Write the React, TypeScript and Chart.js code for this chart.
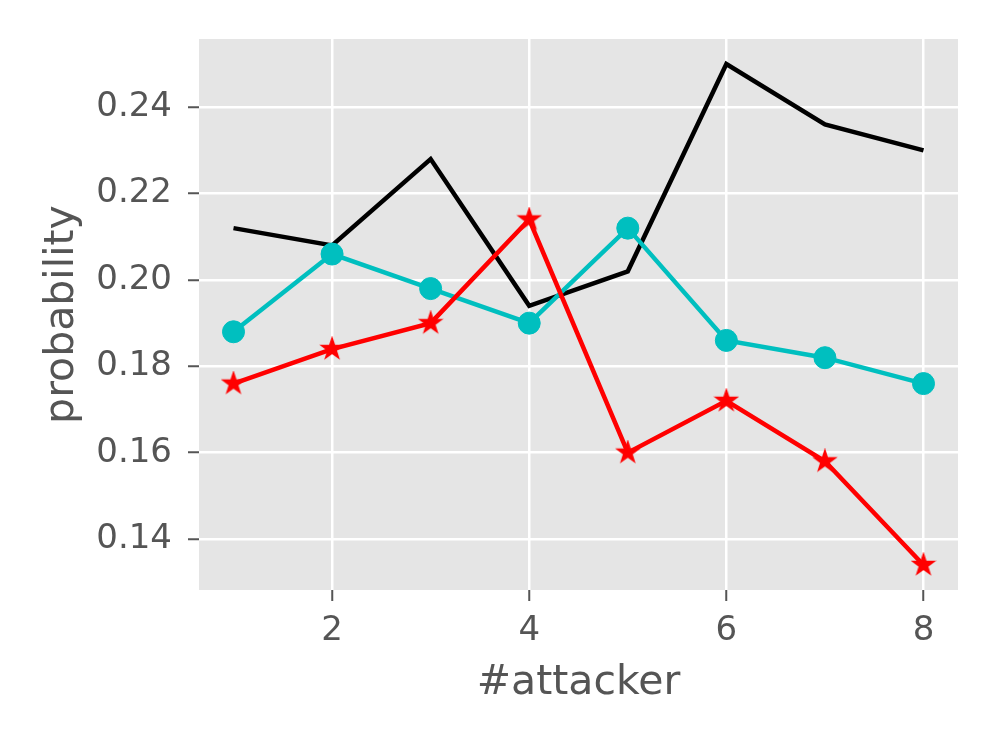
import React, { useEffect, useRef } from "react";
import { Chart, registerables } from "chart.js";
Chart.register(...registerables);

const attackers = [1, 2, 3, 4, 5, 6, 7, 8];
const blackSeries = [0.212, 0.208, 0.228, 0.194, 0.202, 0.25, 0.236, 0.23];
const cyanSeries = [0.188, 0.206, 0.198, 0.19, 0.212, 0.186, 0.182, 0.176];
const redSeries = [0.176, 0.184, 0.19, 0.214, 0.16, 0.172, 0.158, 0.134];
const xTicks = [2, 4, 6, 8];
const yTicks = [0.14, 0.16, 0.18, 0.2, 0.22, 0.24];
const xLabel = "#attacker";
const yLabel = "probability";

const TEXT = "#555555";
const FONT = "'DejaVu Sans', sans-serif";

function makeStar(radius: number, color: string): HTMLCanvasElement {
  const size = Math.ceil(radius * 2 + 4);
  const c = document.createElement("canvas");
  c.width = size;
  c.height = size;
  const ctx = c.getContext("2d")!;
  const cx = size / 2;
  const cy = size / 2;
  const inner = radius * 0.381966;
  ctx.beginPath();
  for (let i = 0; i < 10; i++) {
    const r = i % 2 === 0 ? radius : inner;
    const a = -Math.PI / 2 + (i * Math.PI) / 5;
    const px = cx + r * Math.cos(a);
    const py = cy + r * Math.sin(a);
    if (i === 0) ctx.moveTo(px, py);
    else ctx.lineTo(px, py);
  }
  ctx.closePath();
  ctx.fillStyle = color;
  ctx.fill();
  ctx.lineWidth = 1.5;
  ctx.lineJoin = "miter";
  ctx.strokeStyle = color;
  ctx.stroke();
  return c;
}

const bgPlugin = {
  id: "plotBg",
  beforeDraw(chart: any) {
    const { ctx, chartArea } = chart;
    ctx.save();
    ctx.fillStyle = "#E5E5E5";
    ctx.fillRect(chartArea.left, chartArea.top, chartArea.right - chartArea.left, chartArea.bottom - chartArea.top);
    ctx.restore();
  },
};

export default function App() {
  const ref = useRef<HTMLCanvasElement | null>(null);
  useEffect(() => {
    if (!ref.current) return;
    const star = makeStar(11, "#FF0000");
    const toPts = (arr: number[]) => attackers.map((x, i) => ({ x, y: arr[i] }));
    const chart = new Chart(ref.current, {
      type: "line",
      data: {
        datasets: [
          {
            data: toPts(blackSeries),
            borderColor: "#000000",
            backgroundColor: "#000000",
            borderWidth: 4.5,
            pointRadius: 0,
            tension: 0,
            order: 3,
          },
          {
            data: toPts(cyanSeries),
            borderColor: "#00BFBF",
            backgroundColor: "#00BFBF",
            borderWidth: 4.5,
            pointRadius: 11,
            pointBorderWidth: 1,
            pointStyle: "circle",
            tension: 0,
            order: 2,
          },
          {
            data: toPts(redSeries),
            borderColor: "#FF0000",
            backgroundColor: "#FF0000",
            borderWidth: 4.5,
            pointRadius: 11,
            pointStyle: star as any,
            tension: 0,
            order: 1,
          },
        ],
      },
      options: {
        animation: false,
        responsive: false,
        devicePixelRatio: 1,
        layout: { padding: { top: 39, right: 39, left: 0, bottom: 0 } },
        plugins: { legend: { display: false }, tooltip: { enabled: false } },
        scales: {
          x: {
            type: "linear",
            position: "bottom",
            min: 0.65,
            max: 8.35,
            afterBuildTicks: (s: any) => {
              s.ticks = xTicks.map((v) => ({ value: v }));
            },
            afterFit: (s: any) => {
              s.height = 157;
            },
            grid: { color: "#FFFFFF", lineWidth: 2.5, tickColor: TEXT, tickWidth: 2, tickLength: 11, drawTicks: true },
            border: { display: false },
            ticks: {
              color: TEXT,
              font: { family: FONT, size: 34 },
              padding: 10,
              maxRotation: 0,
              autoSkip: false,
              callback: (v: any) => String(v),
            },
            title: {
              display: true,
              text: xLabel,
              color: TEXT,
              font: { family: FONT, size: 41 },
              padding: { top: 0, bottom: 39 },
            },
          },
          y: {
            type: "linear",
            min: 0.1282,
            max: 0.2558,
            afterBuildTicks: (s: any) => {
              s.ticks = yTicks.map((v) => ({ value: v }));
            },
            afterFit: (s: any) => {
              s.width = 199;
            },
            grid: { color: "#FFFFFF", lineWidth: 2.5, tickColor: TEXT, tickWidth: 2, tickLength: 11, drawTicks: true },
            border: { display: false },
            ticks: {
              color: TEXT,
              font: { family: FONT, size: 34 },
              padding: 16,
              autoSkip: false,
              callback: (v: any) => Number(v).toFixed(2),
            },
            title: {
              display: true,
              text: yLabel,
              color: TEXT,
              font: { family: FONT, size: 41 },
              padding: { top: 38, bottom: 0 },
            },
          },
        },
      },
      plugins: [bgPlugin],
    });
    return () => chart.destroy();
  }, []);
  return (
    <div style={{ position: "absolute", left: 0, top: 0, width: 997, height: 747, background: "#FFFFFF" }}>
      <canvas ref={ref} width={997} height={747} style={{ display: "block", width: 997, height: 747 }} />
    </div>
  );
}
